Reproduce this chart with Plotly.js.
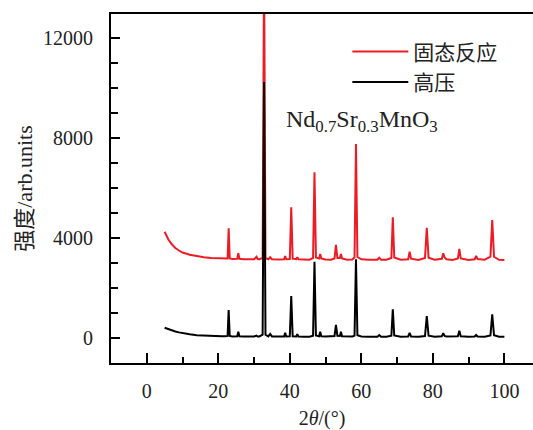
<!DOCTYPE html>
<html>
<head>
<meta charset="utf-8">
<script src="https://cdn.plot.ly/plotly-3.0.1.min.js"></script>
<style>html,body{margin:0;padding:0;background:#fff}#chart{width:533px;height:430px}</style>
</head>
<body>
<div id="chart"></div>
<script>
const twoTheta = [5,6,7,8,9,10,12,14,16,18,20,21,22,22.6,22.9,23.2,24,25.3,25.6,25.9,27,28.5,30,30.7,31,31.5,32.4,32.8,33.2,34,34.5,35,36,37,38.4,38.7,39,40.0,40.4,40.8,41.8,42.1,42.4,44,45.5,46.5,46.9,47.3,48.2,48.5,48.8,50,51.5,52.5,52.9,53.3,54.0,54.3,54.6,56,57.5,58.1,58.5,58.9,60,62,64.5,65,65.5,67,68.4,68.8,69.2,71,73.1,73.5,73.9,76,77.8,78.3,78.8,80.5,82.5,82.9,83.3,83.8,85.5,87.0,87.4,87.8,90,91.7,92.1,92.5,94.5,96.1,96.6,97.1,98.5,100];

const solidState = [4250,3950,3750,3600,3500,3420,3330,3270,3230,3200,3190,3180,3170,3180,4390,3180,3160,3170,3390,3170,3150,3140,3150,3250,3160,3150,3200,15000,3200,3150,3230,3150,3140,3140,3150,3280,3150,3160,5230,3170,3150,3230,3150,3130,3130,3200,6630,3220,3180,3360,3180,3140,3130,3180,3730,3200,3200,3360,3180,3130,3140,3230,7760,3240,3150,3130,3130,3210,3130,3130,3200,4830,3220,3130,3150,3450,3170,3120,3200,4410,3210,3130,3170,3390,3220,3150,3120,3180,3560,3180,3120,3150,3280,3160,3130,3250,4720,3250,3130,3120];

const highPressure = [410,350,300,260,225,195,150,115,95,80,72,68,66,80,1120,80,62,70,250,70,58,56,58,95,62,60,130,10240,130,66,160,62,58,56,62,210,62,66,1680,72,62,150,62,55,55,90,3050,100,66,250,66,56,54,80,520,90,80,250,66,54,58,100,3150,110,62,54,54,120,54,54,90,1150,100,54,62,210,62,50,80,880,90,54,66,190,80,58,50,72,290,72,50,58,120,58,50,100,950,110,54,50];

const seriesNames = ['固态反应', '高压'];
const seriesColors = ['#ed1c24', '#000000'];
const xTickVals = [0,20,40,60,80,100];
const xTickText = ['0','20','40','60','80','100'];
const yTickVals = [0,4000,8000,12000];
const yTickText = ['0','4000','8000','12000'];

const FONT = 'Liberation Serif, Noto Sans CJK SC, serif';

const traces = [
  {x: twoTheta, y: solidState, name: seriesNames[0], type: 'scatter', mode: 'lines',
   line: {color: seriesColors[0], width: 2}},
  {x: twoTheta, y: highPressure, name: seriesNames[1], type: 'scatter', mode: 'lines',
   line: {color: seriesColors[1], width: 2}}
];

const layout = {
  width: 533, height: 430,
  margin: {l: 111, r: 0, t: 14, b: 67},
  paper_bgcolor: '#fff', plot_bgcolor: '#fff',
  font: {family: FONT, size: 20, color: '#000'},
  showlegend: true,
  legend: {x: 0.56, y: 0.95, xanchor: 'left', yanchor: 'top', bgcolor: 'rgba(0,0,0,0)',
           font: {family: FONT, size: 21, color: '#222'}, itemwidth: 56, tracegroupgap: 0},
  xaxis: {
    range: [-10, 108], showgrid: false, zeroline: false,
    showline: true, linecolor: '#000', linewidth: 2, mirror: true,
    ticks: 'inside', ticklen: 10, tickwidth: 2, tickcolor: '#000',
    tickmode: 'array', tickvals: xTickVals, ticktext: xTickText, ticklabelstandoff: 9,
    minor: {dtick: 10, tick0: 0, ticks: 'inside', ticklen: 6, tickwidth: 2, tickcolor: '#000'},
    tickfont: {family: FONT, size: 20, color: '#222'},
    title: {text: '2<i>θ</i>/(°)', font: {family: FONT, size: 20, color: '#222'}, standoff: 15}
  },
  yaxis: {
    range: [-1000, 12960], showgrid: false, zeroline: false,
    showline: true, linecolor: '#000', linewidth: 2, mirror: false,
    ticks: 'inside', ticklen: 9, tickwidth: 2, tickcolor: '#000',
    tickmode: 'array', tickvals: yTickVals, ticktext: yTickText, ticklabelstandoff: 12,
    minor: {dtick: 1000, tick0: 0, ticks: 'inside', ticklen: 7, tickwidth: 2, tickcolor: '#000'},
    tickfont: {family: FONT, size: 20, color: '#222'},
    title: {text: '强度/arb.units', font: {family: FONT, size: 22, color: '#222'}, standoff: 4}
  },
  annotations: [{
    x: 60.3, y: 8680, xref: 'x', yref: 'y', showarrow: false,
    text: 'Nd<sub>0.7</sub>Sr<sub>0.3</sub>MnO<sub>3</sub>',
    font: {family: FONT, size: 24, color: '#222'}
  }]
};

Plotly.newPlot('chart', traces, layout, {displayModeBar: false, staticPlot: true});
</script>
</body>
</html>
